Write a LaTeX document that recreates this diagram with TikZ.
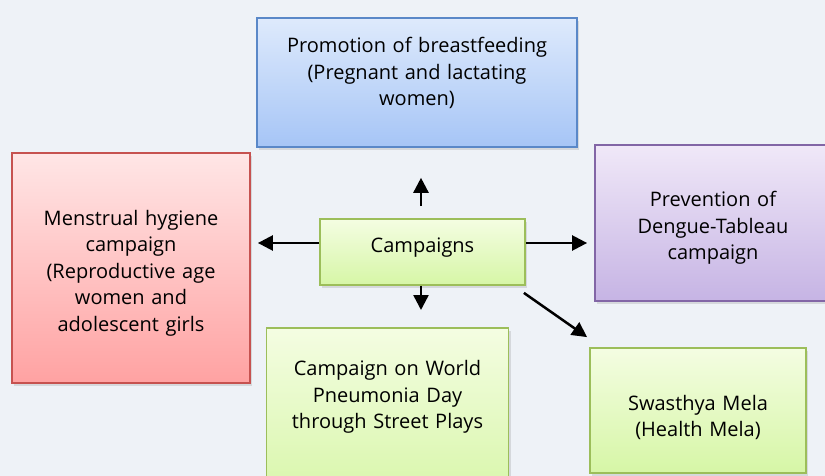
\documentclass[tikz,border=0pt]{standalone}
\usepackage{fontspec}
\setmainfont{Open Sans}
\usetikzlibrary{arrows.meta,calc,shadows}
\definecolor{hgrund}{RGB}{238,242,247}
\definecolor{blaurand}{RGB}{90,136,200}
\definecolor{blauoben}{RGB}{222,234,252}
\definecolor{blauunten}{RGB}{166,197,246}
\definecolor{rotrand}{RGB}{198,82,80}
\definecolor{rotoben}{RGB}{255,230,230}
\definecolor{rotunten}{RGB}{255,162,162}
\definecolor{gruenrand}{RGB}{156,190,90}
\definecolor{gruenoben}{RGB}{244,253,226}
\definecolor{gruenunten}{RGB}{214,246,166}
\definecolor{lilarand}{RGB}{130,102,166}
\definecolor{lilaoben}{RGB}{240,232,248}
\definecolor{lilaunten}{RGB}{198,180,228}
\begin{document}
\begin{tikzpicture}[thick,x=1pt,y=-1pt,
box/.style={draw,line width=1.8pt,align=center,inner xsep=8pt,
font=\fontsize{20}{26.5}\selectfont,
drop shadow={shadow xshift=2pt,shadow yshift=-3pt,opacity=0.22}},
blaubox/.style={box,draw=blaurand,top color=blauoben,bottom color=blauunten},
rotbox/.style={box,draw=rotrand,top color=rotoben,bottom color=rotunten},
gruenbox/.style={box,draw=gruenrand,top color=gruenoben,bottom color=gruenunten},
lilabox/.style={box,draw=lilarand,top color=lilaoben,bottom color=lilaunten},
pfeil/.style={line width=2.5pt,-{Triangle[length=15pt,width=15pt]}}]
	%Hintergrund
	\fill [hgrund] (0,0) rectangle (825,476);
	\useasboundingbox (0,0) rectangle (825,476);
	%Kaesten
	\node [blaubox,anchor=north,text width=304pt,text height=14pt,text depth=73pt,inner ysep=21pt] (promo) at (417,17) {Promotion of breastfeeding\\(Pregnant and lactating\\women)};
	\node [rotbox,text width=222pt,minimum height=230pt,text height=25.5pt] (mens) at (131,268) {Menstrual hygiene\\campaign\\(Reproductive age\\women and\\adolescent girls};
	\node [gruenbox,text width=189pt,minimum height=66pt,text depth=13pt] (camp) at (422.5,252) {Campaigns};
	\node [lilabox,text width=220pt,minimum height=156pt,text height=25pt] (deng) at (713,223) {Prevention of\\Dengue-Tableau\\campaign};
	\node [gruenbox,text width=200pt,minimum height=125pt,text height=29pt] (mela) at (698,410.5) {Swasthya Mela\\(Health Mela)};
	\node [gruenbox,anchor=north,text width=226pt,text height=14pt,text depth=100pt,inner ysep=34pt] (pneu) at (387.5,327) {Campaign on World\\Pneumonia Day\\through Street Plays};
	%Pfeile
	\draw [pfeil] ($(camp.north)+(-1.5,-12)$) -- ($(camp.north |- promo.south)+(-1.5,30)$);
	\draw [pfeil] ($(camp.south)+(-1.5,0)$) -- ($(camp.south |- pneu.north)+(-1.5,-17)$);
	\draw [pfeil] ($(camp.west)+(0,-9)$) -- ($(mens.east |- camp.west)+(7,-9)$);
	\draw [pfeil] ($(camp.east)+(0,-9)$) -- ($(deng.west |- camp.west)+(-7,-9)$);
	\draw [pfeil] ($(camp.south east)+(-2,7)$) -- ($(mela.north west)+(-2,-10)$);
\end{tikzpicture}
\end{document}
